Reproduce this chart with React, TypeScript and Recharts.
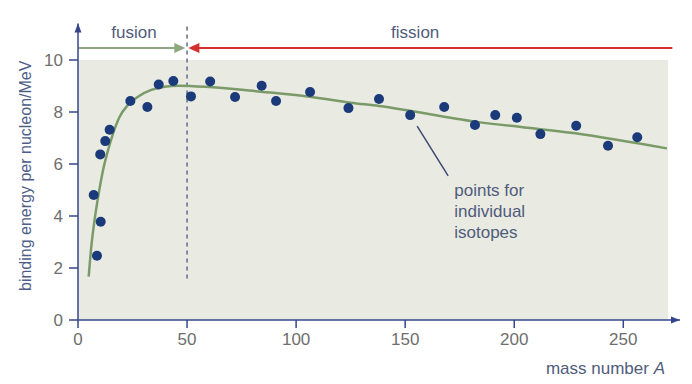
import {
  ComposedChart,
  XAxis,
  YAxis,
  Line,
  Scatter,
  ReferenceArea,
  ReferenceLine,
  ReferenceDot,
} from 'recharts';

// ─── Data ─────────────────────────────────────────────────────────────────────

// individual isotopes (mass number A, binding energy per nucleon / MeV)
const isotopeA = [7.2, 8.7, 10.4, 10.2, 12.5, 14.5, 24, 31.8, 37, 43.7, 51.8, 60.6, 72, 84.2, 90.8, 106.4, 124, 138, 152.3, 167.9, 182, 191.3, 201.2, 212, 228.4, 243, 256.4];
const isotopeE = [4.81, 2.47, 3.78, 6.37, 6.88, 7.32, 8.42, 8.19, 9.06, 9.19, 8.6, 9.17, 8.58, 9.01, 8.42, 8.77, 8.15, 8.5, 7.88, 8.19, 7.5, 7.88, 7.78, 7.15, 7.47, 6.7, 7.03];

// smooth trend curve
const curveA = [4.9, 6.1, 7.6, 9.5, 11.5, 13.8, 16.1, 19.1, 22.9, 27.5, 33.6, 39.7, 45.9, 60, 84, 106, 125, 138, 182, 228, 270];
const curveE = [1.67, 2.82, 3.85, 4.87, 5.77, 6.54, 7.18, 7.82, 8.27, 8.59, 8.85, 8.97, 9.01, 8.96, 8.78, 8.59, 8.36, 8.23, 7.63, 7.18, 6.6];

const xTicks = [0, 50, 100, 150, 200, 250];
const yTicks = [0, 2, 4, 6, 8, 10];

const isotopes = isotopeA.map((a, i) => ({ a, e: isotopeE[i] }));
const curve = curveA.map((a, i) => ({ a, e: curveE[i] }));

// ─── Palette ──────────────────────────────────────────────────────────────────

const AXIS = '#34468a';
const DOT = '#1b3a7a';
const CURVE = '#7a9a68';
const SHADE = '#e9eae2';
const GREEN_ARROW = '#8ea781';
const RED_ARROW = '#d2302c';
const TEXT = '#505c7c';
const TICK_TEXT = '#6e6e6e';
const FONT = "'Liberation Sans', Arial, sans-serif";

// ─── Small shapes ─────────────────────────────────────────────────────────────

const arrowHead = (dir: 'up' | 'right' | 'left', color: string, len = 10, half = 4.5) =>
  (p: any) => {
    const { cx, cy } = p;
    let pts = '';
    if (dir === 'up') pts = `${cx},${cy} ${cx - half},${cy + len} ${cx + half},${cy + len}`;
    if (dir === 'right') pts = `${cx},${cy} ${cx - len},${cy - half} ${cx - len},${cy + half}`;
    if (dir === 'left') pts = `${cx},${cy} ${cx + len},${cy - half} ${cx + len},${cy + half}`;
    return <polygon points={pts} fill={color} />;
  };

const textAt = (lines: string[], anchor: 'start' | 'middle' = 'start', lineH = 21) =>
  (p: any) => (
    <text
      x={p.cx}
      y={p.cy}
      textAnchor={anchor}
      dominantBaseline="central"
      style={{ fontFamily: FONT, fontSize: 17, fill: TEXT }}
    >
      {lines.map((l, i) => (
        <tspan key={i} x={p.cx} dy={i === 0 ? 0 : lineH}>
          {l}
        </tspan>
      ))}
    </text>
  );

const dotShape = (p: any) => <circle cx={p.cx} cy={p.cy} r={5} fill={DOT} />;

const YLabel = (p: any) => {
  const vb = p.viewBox || {};
  const x = vb.x + 16;
  const y = vb.y + vb.height / 2 + 4;
  return (
    <text
      x={x}
      y={y}
      transform={`rotate(-90 ${x} ${y})`}
      textAnchor="middle"
      dominantBaseline="central"
      style={{ fontFamily: FONT, fontSize: 16, fill: '#4e5d88' }}
    >
      binding energy per nucleon/MeV
    </text>
  );
};

const XLabel = (p: any) => {
  const vb = p.viewBox || {};
  return (
    <text
      x={vb.x + vb.width - 15}
      y={vb.y + 48}
      textAnchor="end"
      dominantBaseline="central"
      style={{ fontFamily: FONT, fontSize: 17, fill: TEXT }}
    >
      mass number <tspan fontStyle="italic">A</tspan>
    </text>
  );
};

// ─── Chart ────────────────────────────────────────────────────────────────────

export default function App() {
  return (
    <div style={{ position: 'absolute', left: 0, top: 0, background: '#fff' }}>
      <ComposedChart
        width={692}
        height={384}
        margin={{ top: 23.6, right: 12, bottom: 4, left: 10 }}
      >
        <XAxis
          type="number"
          dataKey="a"
          domain={[0, 276]}
          ticks={xTicks}
          allowDataOverflow
          height={60}
          axisLine={{ stroke: AXIS, strokeWidth: 1.5 }}
          tickLine={{ stroke: AXIS, strokeWidth: 1.5 }}
          tickSize={8}
          tickMargin={5}
          tick={{ fill: TICK_TEXT, fontSize: 17, fontFamily: FONT }}
          label={<XLabel />}
        />
        <YAxis
          type="number"
          dataKey="e"
          domain={[0, 11.4]}
          ticks={yTicks}
          allowDataOverflow
          width={68}
          axisLine={{ stroke: AXIS, strokeWidth: 1.5 }}
          tickLine={{ stroke: AXIS, strokeWidth: 1.5 }}
          tickSize={9}
          tickMargin={6}
          tick={{ fill: TICK_TEXT, fontSize: 17, fontFamily: FONT }}
          label={<YLabel />}
        />

        {/* shaded plot region */}
        <ReferenceArea x1={0} x2={270.5} y1={0} y2={10} fill={SHADE} fillOpacity={1} stroke="none" ifOverflow="visible" />

        {/* axis arrowheads */}
        <ReferenceDot x={0} y={11.4} r={0} ifOverflow="visible" shape={arrowHead('up', AXIS, 9, 3.5)} />
        <ReferenceDot x={276} y={0} r={0} ifOverflow="visible" shape={arrowHead('right', AXIS, 9, 3.5)} />

        {/* A = 50 divider */}
        <ReferenceLine
          segment={[{ x: 50, y: 1.6 }, { x: 50, y: 11.3 }]}
          stroke="#5b6a8c"
          strokeWidth={1.5}
          strokeDasharray="4 4"
          ifOverflow="visible"
        />

        {/* fusion / fission arrows */}
        <ReferenceLine segment={[{ x: 0, y: 10.46 }, { x: 46, y: 10.46 }]} stroke={GREEN_ARROW} strokeWidth={2} ifOverflow="visible" />
        <ReferenceDot x={49.2} y={10.46} r={0} ifOverflow="visible" shape={arrowHead('right', GREEN_ARROW, 11, 5)} />
        <ReferenceLine segment={[{ x: 54, y: 10.46 }, { x: 272.5, y: 10.46 }]} stroke={RED_ARROW} strokeWidth={2} ifOverflow="visible" />
        <ReferenceDot x={50.6} y={10.46} r={0} ifOverflow="visible" shape={arrowHead('left', RED_ARROW, 11, 5)} />
        <ReferenceDot x={25.7} y={11.06} r={0} ifOverflow="visible" shape={textAt(['fusion'], 'middle')} />
        <ReferenceDot x={154.6} y={11.06} r={0} ifOverflow="visible" shape={textAt(['fission'], 'middle')} />

        {/* trend curve + isotopes */}
        <Line
          data={curve}
          dataKey="e"
          type="monotone"
          stroke={CURVE}
          strokeWidth={2.5}
          dot={false}
          activeDot={false}
          isAnimationActive={false}
        />
        <Scatter data={isotopes} dataKey="e" shape={dotShape} isAnimationActive={false} />

        {/* annotation */}
        <ReferenceLine
          segment={[{ x: 155.5, y: 7.46 }, { x: 169.7, y: 5.54 }]}
          stroke="#3d4a72"
          strokeWidth={1.5}
          ifOverflow="visible"
        />
        <ReferenceDot
          x={172.5}
          y={5.0}
          r={0}
          ifOverflow="visible"
          shape={textAt(['points for', 'individual', 'isotopes'])}
        />
      </ComposedChart>
    </div>
  );
}
